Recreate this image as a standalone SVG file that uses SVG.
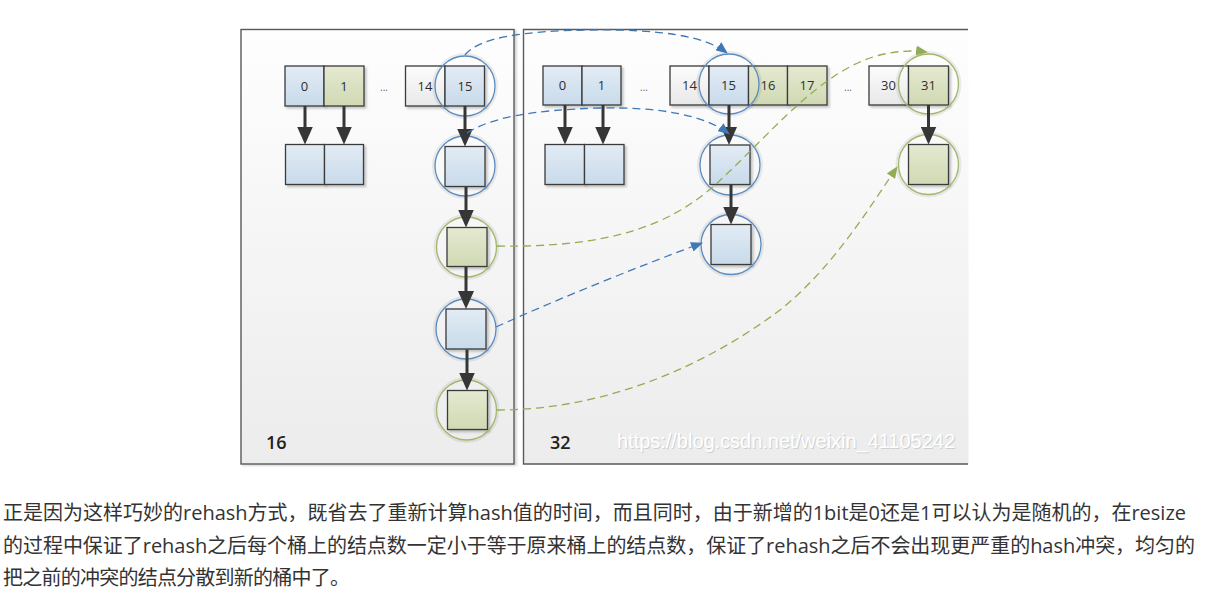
<svg xmlns="http://www.w3.org/2000/svg" width="1220" height="595" viewBox="0 0 1220 595">
<defs>
  <linearGradient id="gPanel" x1="0" y1="0" x2="0" y2="1"><stop offset="0" stop-color="#fefefe"/><stop offset="1" stop-color="#ececec"/></linearGradient>
  <linearGradient id="gBlue" x1="0" y1="0" x2="0" y2="1"><stop offset="0" stop-color="#e3ecf5"/><stop offset="1" stop-color="#c8daea"/></linearGradient>
  <linearGradient id="gGreen" x1="0" y1="0" x2="0" y2="1"><stop offset="0" stop-color="#e4e9d1"/><stop offset="1" stop-color="#d0d9b3"/></linearGradient>
  <linearGradient id="gWhite" x1="0" y1="0" x2="0" y2="1"><stop offset="0" stop-color="#fcfcfc"/><stop offset="1" stop-color="#e8e8e8"/></linearGradient>
  <filter id="sh" x="-20%" y="-20%" width="150%" height="150%"><feDropShadow dx="2" dy="2" stdDeviation="1" flood-color="#000" flood-opacity="0.22"/></filter>
  <filter id="psh" x="-5%" y="-5%" width="110%" height="110%"><feDropShadow dx="2" dy="1" stdDeviation="1.2" flood-color="#000" flood-opacity="0.18"/></filter>
  <marker id="mSolid" markerUnits="userSpaceOnUse" viewBox="0 0 18 16" markerWidth="18" markerHeight="16" refX="14" refY="8" orient="auto"><path d="M0,0 L18,8 L0,16 Z" fill="#363636"/></marker>
  <marker id="mBlue" markerUnits="userSpaceOnUse" viewBox="0 0 12 10" markerWidth="12" markerHeight="10" refX="11" refY="5" orient="auto"><path d="M0,0 L12,5 L0,10 Z" fill="#3f78b4"/></marker>
  <marker id="mGreen" markerUnits="userSpaceOnUse" viewBox="0 0 12 10" markerWidth="12" markerHeight="10" refX="11" refY="5" orient="auto"><path d="M0,0 L12,5 L0,10 Z" fill="#94ac55"/></marker>
</defs>
<style>
  .panel{fill:url(#gPanel);stroke:#5a5a5a;stroke-width:1.4}
  .cell{stroke:#3a3a3a;stroke-width:1.3;filter:url(#sh)}
  .blue{fill:url(#gBlue)}
  .green{fill:url(#gGreen)}
  .white{fill:url(#gWhite)}
  .halo{fill:none;stroke:#000;stroke-opacity:0.07;stroke-width:3}
  .ring{fill:none;stroke-width:1.3}
  .rb{stroke:#5a8cc2}
  .rg{stroke:#a1b76b}
  .num{font-family:"Open Sans","DejaVu Sans",sans-serif;font-size:13px;fill:#2e2e2e;text-anchor:middle}
  .dots{font-family:"Open Sans","DejaVu Sans",sans-serif;font-size:10px;fill:#666;text-anchor:middle}
  .lbl{font-family:"Open Sans","DejaVu Sans",sans-serif;font-size:18px;font-weight:600;fill:#222}
  .ptr{stroke:#363636;stroke-width:3;fill:none;marker-end:url(#mSolid)}
  .db{stroke:#3f78b4;stroke-width:1.3;stroke-dasharray:8 5;fill:none;marker-end:url(#mBlue)}
  .dg{stroke:#94ac55;stroke-width:1.3;stroke-dasharray:8 5;fill:none;marker-end:url(#mGreen)}
  .wm{font-family:"Liberation Sans",Arial,sans-serif;font-size:20px}
  .para{font-family:"Open Sans","Noto Sans CJK SC",sans-serif;font-size:20px;fill:#333}
</style>

<rect width="1220" height="595" fill="#ffffff"/>

<!-- panels -->
<g id="panel16">
  <rect class="panel" x="241" y="29.5" width="273" height="434.5" filter="url(#psh)"/>
  <text class="lbl" x="266" y="449">16</text>
</g>
<g id="panel32">
  <rect x="523.5" y="29.5" width="445" height="434.5" fill="url(#gPanel)"/>
  <path d="M968 29.5 L523.5 29.5 L523.5 464 L968 464" fill="none" stroke="#5a5a5a" stroke-width="1.4"/>
  <text class="lbl" x="550" y="449">32</text>
  <text class="wm" x="618" y="449" fill="#cfcfcf" textLength="338">https://blog.csdn.net/weixin_41105242</text>
  <text class="wm" x="617" y="448" fill="#ffffff" textLength="338">https://blog.csdn.net/weixin_41105242</text>
</g>

<!-- left table (16) -->
<g id="old-table">
  <rect class="cell blue" x="285" y="66" width="39" height="40"/>
  <rect class="cell green" x="324" y="66" width="40" height="40"/>
  <rect class="cell white" x="405.5" y="66" width="39.5" height="40"/>
  <rect class="cell blue" x="445" y="66" width="39.5" height="40"/>
  <text class="num" x="304.5" y="90.5">0</text>
  <text class="num" x="344" y="90.5">1</text>
  <text class="dots" x="384" y="91">...</text>
  <text class="num" x="425" y="90.5">14</text>
  <text class="num" x="465" y="90.5">15</text>
</g>
<g id="old-bucket0-node"><rect class="cell blue" x="285.5" y="144.5" width="39" height="40"/></g>
<g id="old-bucket1-node"><rect class="cell blue" x="324.5" y="144.5" width="39" height="40"/></g>
<g id="old-15-ring"><circle class="halo" cx="465" cy="86" r="31.5"/><circle class="ring rb" cx="465" cy="86" r="30"/></g>
<g id="old-n1"><circle class="halo" cx="465" cy="166" r="31.5"/><rect class="cell blue" x="445" y="146.5" width="40" height="40"/><circle class="ring rb" cx="465" cy="166" r="30"/></g>
<g id="old-n2"><circle class="halo" cx="466.5" cy="247" r="31.5"/><rect class="cell green" x="447" y="227.5" width="40" height="39"/><circle class="ring rg" cx="466.5" cy="247" r="30"/></g>
<g id="old-n3"><circle class="halo" cx="466" cy="329" r="31.5"/><rect class="cell blue" x="446" y="309" width="40" height="40"/><circle class="ring rb" cx="466" cy="329" r="30"/></g>
<g id="old-n4"><circle class="halo" cx="466.5" cy="410" r="31.5"/><rect class="cell green" x="447.5" y="390.5" width="40" height="39"/><circle class="ring rg" cx="466.5" cy="410" r="30"/></g>

<!-- right table (32) -->
<g id="new-table">
  <rect class="cell blue" x="543" y="66" width="39" height="39"/>
  <rect class="cell blue" x="582" y="66" width="39" height="39"/>
  <rect class="cell white" x="670" y="66" width="39" height="39"/>
  <rect class="cell blue" x="709" y="66" width="39.5" height="39"/>
  <rect class="cell green" x="748.5" y="66" width="39" height="39"/>
  <rect class="cell green" x="787.5" y="66" width="39.5" height="39"/>
  <rect class="cell white" x="869" y="66" width="39.5" height="39"/>
  <rect class="cell green" x="908.5" y="66" width="40" height="39"/>
  <text class="num" x="562.5" y="90">0</text>
  <text class="num" x="601.5" y="90">1</text>
  <text class="dots" x="644" y="91">...</text>
  <text class="num" x="689.5" y="90">14</text>
  <text class="num" x="728.5" y="90">15</text>
  <text class="num" x="768" y="90">16</text>
  <text class="num" x="807" y="90">17</text>
  <text class="dots" x="848" y="91">...</text>
  <text class="num" x="888.5" y="90">30</text>
  <text class="num" x="928.5" y="90">31</text>
</g>
<g id="new-bucket0-node"><rect class="cell blue" x="545" y="144.5" width="39.5" height="40"/></g>
<g id="new-bucket1-node"><rect class="cell blue" x="584.5" y="144.5" width="39.5" height="40"/></g>
<g id="new-15-ring"><circle class="halo" cx="729" cy="84" r="31.5"/><circle class="ring rb" cx="729" cy="84" r="30"/></g>
<g id="new-31-ring"><circle class="halo" cx="928.5" cy="84" r="31.5"/><circle class="ring rg" cx="928.5" cy="84" r="30"/></g>
<g id="new-15-n1"><circle class="halo" cx="730" cy="165" r="31.5"/><rect class="cell blue" x="710" y="145" width="40" height="39.5"/><circle class="ring rb" cx="730" cy="165" r="30"/></g>
<g id="new-15-n2"><circle class="halo" cx="731" cy="244.5" r="31.5"/><rect class="cell blue" x="711" y="224.5" width="40" height="40"/><circle class="ring rb" cx="731" cy="244.5" r="30"/></g>
<g id="new-31-n1"><circle class="halo" cx="928.5" cy="164.5" r="31.5"/><rect class="cell green" x="908.5" y="144.5" width="40" height="40"/><circle class="ring rg" cx="928.5" cy="164.5" r="30"/></g>

<!-- connectors -->
<g id="connectors">
  <path class="ptr" d="M305 106 L305 140.5"/>
  <path class="ptr" d="M344 106 L344 140.5"/>
  <path class="ptr" d="M465 106 L465 142.5"/>
  <path class="ptr" d="M466 187 L466 223.5"/>
  <path class="ptr" d="M466 267 L466 305"/>
  <path class="ptr" d="M467 349.5 L467 386.5"/>
  <path class="ptr" d="M565 105 L565 140.5"/>
  <path class="ptr" d="M603 105 L603 140.5"/>
  <path class="ptr" d="M729 105 L729 141"/>
  <path class="ptr" d="M731 184.5 L731 220.5"/>
  <path class="ptr" d="M928.5 105 L928.5 140.5"/>

  <path class="db" d="M465 55 C478 38, 520 31, 590 30 C660 29, 705 36, 727 53"/>
  <path class="db" d="M467 133 C490 118, 530 110, 600 108 C660 107, 705 115, 729 134"/>
  <path class="dg" d="M497 246 C610 248, 670 225, 715 185 C770 135, 820 70, 880 55 Q905 49, 927 52"/>
  <path class="db" d="M496 327 C560 298, 640 266, 702 243"/>
  <path class="dg" d="M497 410 C600 410, 700 370, 780 310 C830 270, 865 215, 897 167"/>
</g>

<!-- paragraph -->
<g id="paragraph">
  <text class="para" x="3" y="520" textLength="1183" lengthAdjust="spacing">正是因为这样巧妙的rehash方式，既省去了重新计算hash值的时间，而且同时，由于新增的1bit是0还是1可以认为是随机的，在resize</text>
  <text class="para" x="3" y="553" textLength="1192" lengthAdjust="spacing">的过程中保证了rehash之后每个桶上的结点数一定小于等于原来桶上的结点数，保证了rehash之后不会出现更严重的hash冲突，均匀的</text>
  <text class="para" x="3" y="585" textLength="347" lengthAdjust="spacing">把之前的冲突的结点分散到新的桶中了。</text>
</g>
</svg>
